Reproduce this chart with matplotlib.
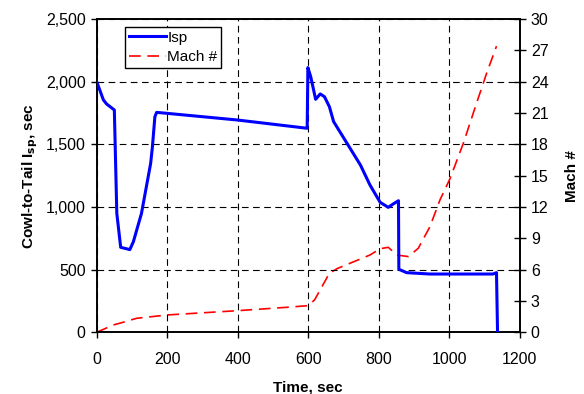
import matplotlib.pyplot as plt
import matplotlib.ticker as mticker

plt.rcParams['font.family'] = ['Liberation Sans', 'DejaVu Sans']

# Isp curve (sec) vs time (sec)
isp_time = [0, 19, 28, 50, 57, 68, 94, 104, 127, 153, 158, 165, 170, 200, 399, 597,
            599, 607, 621, 634, 646, 660, 672, 710, 748, 775, 804, 827, 841, 856,
            857, 879, 945, 1124, 1134, 1137]
isp_values = [2000, 1854, 1822, 1774, 949, 678, 660, 723, 949, 1348, 1480, 1720, 1755,
              1747, 1694, 1628, 2112, 2040, 1859, 1902, 1880, 1800, 1681, 1508, 1335,
              1176, 1037, 997, 1024, 1050, 503, 476, 465, 465, 476, 0]

# Mach number vs time (sec)
mach_time = [0, 47, 75, 113, 200, 399, 538, 599, 618, 660, 682, 775, 804, 827, 851,
             884, 912, 945, 974, 1002, 1040, 1077, 1106, 1134]
mach_values = [0, 0.7, 0.96, 1.34, 1.66, 2.07, 2.39, 2.55, 3.1, 5.65, 6.1, 7.4, 8.0,
               8.14, 7.4, 7.25, 8.04, 10.1, 12.7, 14.7, 18.1, 21.9, 24.8, 27.4]

fig = plt.figure(figsize=(5.84, 3.94), dpi=100)
ax = fig.add_axes([0.1656, 0.1566, 0.7244, 0.7952])
ax2 = ax.twinx()

ln1, = ax.plot(isp_time, isp_values, color='#0000ff', lw=2.2, label='Isp', zorder=3)
ln2, = ax2.plot(mach_time, mach_values, color='#ff0000', lw=1.2, ls=(0, (7, 4)),
                label='Mach #')

ax.set_xlim(0, 1200)
ax.set_ylim(0, 2500)
ax2.set_ylim(0, 30)
ax.set_xticks(range(0, 1201, 200))
ax.set_yticks(range(0, 2501, 500))
ax2.set_yticks(range(0, 31, 3))
ax.yaxis.set_major_formatter(mticker.FuncFormatter(lambda v, p: f'{int(v):,}'))

ax.grid(True, color='black', ls=(0, (6, 4)), lw=0.8)
ax.tick_params(axis='y', labelsize=11.5, direction='out', length=4, width=1, pad=4)
ax.tick_params(axis='x', labelsize=11.5, direction='out', length=4, width=1, pad=10)
ax2.tick_params(axis='y', labelsize=11.5, direction='inout', length=8, width=1, pad=4)

ax.set_xlabel('Time, sec', fontsize=11, fontweight='bold', labelpad=10)
ax.set_ylabel('Cowl-to-Tail I$_{\\mathbf{sp}}$, sec', fontsize=11, fontweight='bold',
              labelpad=4)
ax2.set_ylabel('Mach #', fontsize=11, fontweight='bold', labelpad=12)

for sp in list(ax.spines.values()) + list(ax2.spines.values()):
    sp.set_linewidth(1.2)

leg = ax.legend([ln1, ln2], ['Isp', 'Mach #'], loc='upper left',
                bbox_to_anchor=(0.06, 0.985), fontsize=11, fancybox=False,
                framealpha=1, edgecolor='black', handlelength=2.4,
                handletextpad=0.1, borderpad=0.25, labelspacing=0.35,
                borderaxespad=0.2)
leg.get_frame().set_linewidth(1.0)
ax.set_zorder(ax2.get_zorder() + 1)
ax.patch.set_visible(False)

fig.savefig('out.png', dpi=100)
